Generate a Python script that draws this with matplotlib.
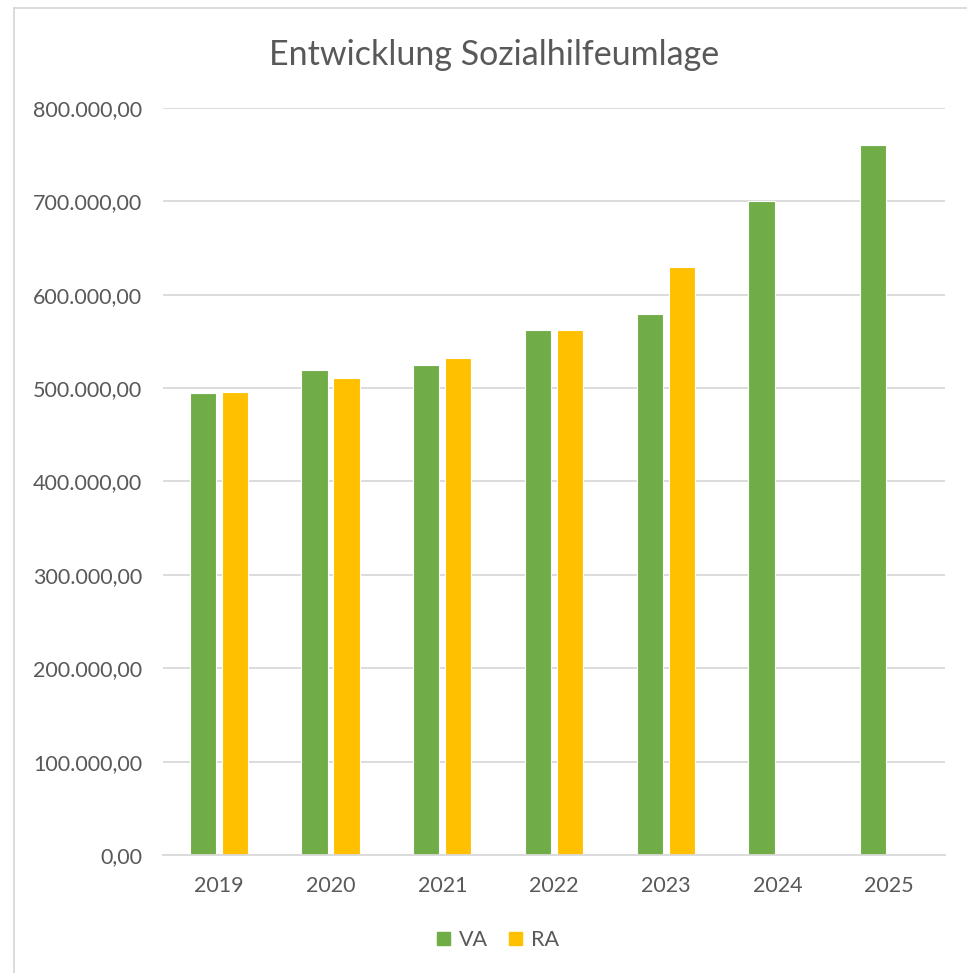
import matplotlib
matplotlib.use('Agg')
import matplotlib.pyplot as plt
import matplotlib.patches as mpatches
from matplotlib.ticker import FuncFormatter
import numpy as np

years = ['2019', '2020', '2021', '2022', '2023', '2024', '2025']
va = [495000, 519500, 524800, 562300, 579500, 700300, 760500]
ra = [496000, 510500, 531800, 562300, 629800, None, None]

green = '#70ad47'
yellow = '#ffc000'
grey_text = '#595959'
grid_col = '#d9d9d9'

plt.rcParams['font.family'] = ['Lato', 'DejaVu Sans']

fig = plt.figure(figsize=(9.67, 9.73), dpi=100)
ax = fig.add_axes([163 / 967, 1 - 855 / 973, (945 - 163) / 967, (855 - 108) / 973])

x = np.arange(len(years))
w = 0.235
off = 0.143
ax.bar(x - off, va, width=w, color=green, edgecolor='white', linewidth=0.8, label='VA')
ra_x = [xi + off for xi, v in zip(x, ra) if v is not None]
ra_v = [v for v in ra if v is not None]
ax.bar(ra_x, ra_v, width=w, color=yellow, edgecolor='white', linewidth=0.8, label='RA')

ax.set_xlim(-0.5, len(years) - 0.5)
ax.set_ylim(0, 800000)
ax.set_yticks(np.arange(0, 800001, 100000))
ax.yaxis.set_major_formatter(FuncFormatter(
    lambda v, p: f"{v:,.2f}".replace(',', 'X').replace('.', ',').replace('X', '.')))
ax.set_xticks(x)
ax.set_xticklabels(years)
ax.grid(axis='y', color=grid_col, linewidth=1.3)
ax.set_axisbelow(True)
for s in ['top', 'right', 'left']:
    ax.spines[s].set_visible(False)
ax.spines['bottom'].set_color(grid_col)
ax.spines['bottom'].set_linewidth(1.3)
ax.tick_params(axis='both', length=0, colors=grey_text, labelsize=15.5)
ax.tick_params(axis='y', pad=15)
ax.tick_params(axis='x', pad=15)

fig.text(494 / 967, 1 - 55 / 973, 'Entwicklung Sozialhilfeumlage', ha='center', va='center',
         fontsize=24.5, color=grey_text)

handles = [mpatches.Patch(color=green, label='VA'), mpatches.Patch(color=yellow, label='RA')]
fig.legend(handles=handles, loc='center', bbox_to_anchor=(498 / 967, 1 - 940 / 973), ncol=2,
           frameon=False, fontsize=15.5, labelcolor=grey_text, handlelength=0.6,
           handleheight=0.6, handletextpad=0.4, columnspacing=1.0)

# chart frame (cropped at right and bottom)
fig.add_artist(plt.Line2D([14 / 967, 14 / 967], [0, 1 - 8 / 973], color=grid_col, linewidth=1.3,
                          transform=fig.transFigure))
fig.add_artist(plt.Line2D([14 / 967, 1], [1 - 8 / 973, 1 - 8 / 973], color=grid_col, linewidth=1.3,
                          transform=fig.transFigure))

fig.savefig('out.png', dpi=100)
